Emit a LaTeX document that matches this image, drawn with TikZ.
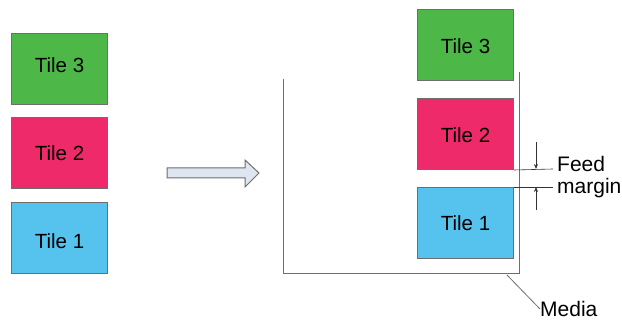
\documentclass[tikz,border=0pt]{standalone}
\usepackage{fontspec}
\setmainfont{Liberation Sans}
\usetikzlibrary{arrows.meta}
\definecolor{tgreen}{HTML}{4DB848}
\definecolor{tpink}{HTML}{EE2A6B}
\definecolor{tblue}{HTML}{55C3EE}
\definecolor{edgegray}{HTML}{6E6E6E}
\definecolor{arrowfill}{HTML}{DEE6F2}
\begin{document}
\begin{tikzpicture}[x=1pt,y=-1pt,
  tile/.style={draw=edgegray, line width=1pt, minimum width=96pt, minimum height=71pt, inner sep=0pt, font=\fontsize{20.5}{24}\selectfont, anchor=north west, text depth=0pt},
  medialine/.style={draw=edgegray, line width=1pt},
  thin/.style={draw=black!80, line width=0.6pt},
  lbl/.style={font=\fontsize{21}{24}\selectfont, inner sep=0pt}]
\useasboundingbox (0,0) rectangle (622,320);
% left tiles
\node[tile, fill=tgreen, text height=7.1pt] (l3) at (11,33) {Tile 3};
\node[tile, fill=tpink, text height=15.7pt] (l2) at (11,117) {Tile 2};
\node[tile, fill=tblue, text height=20.7pt] (l1) at (11,202) {Tile 1};
% big arrow
\draw[edgegray, line width=1pt, fill=arrowfill, line join=miter]
  (167,168) -- (245,168) -- (245,160) -- (259,173) -- (245,187) -- (245,178) -- (167,178) -- cycle;
% media
\coordinate (mtl) at (283,79);
\coordinate (mbl) at (283,274);
\coordinate (mbr) at (519,274);
\coordinate (mtr) at (519,72);
\draw[medialine] (mtl) -- (mbl) -- (mbr) -- (mtr);
% right tiles
\node[tile, fill=tgreen, text height=17.7pt] (r3) at (417,9) {Tile 3};
\node[tile, fill=tpink, text height=17.7pt] (r2) at (417,98) {Tile 2};
\node[tile, fill=tblue, text height=14.7pt] (r1) at (417,187) {Tile 1};
% feed margin
\coordinate (fa) at (553,169);
\coordinate (fb) at (553,187);
\draw[thin] (r2.south east) -- (fa);
\draw[thin] (r1.north east) -- (fb);
\coordinate (a1s) at (536,142);
\coordinate (a1e) at (536,169);
\coordinate (a2s) at (536,210);
\coordinate (a2e) at (536,187);
\draw[thin, -{Stealth[length=5pt,width=4pt]}] (a1s) -- (a1e);
\draw[thin, -{Stealth[length=5pt,width=4pt]}] (a2s) -- (a2e);
\node[lbl, anchor=base west] (feed) at (557,172) {Feed};
\node[lbl, anchor=base west] (margin) at (557,194) {margin};
% media label
\node[lbl, anchor=west] (media) at (540,309) {Media};
\coordinate (mp) at (507,275);
\draw[edgegray, line width=0.8pt] (mp) -- (media.west);
\end{tikzpicture}
\end{document}
